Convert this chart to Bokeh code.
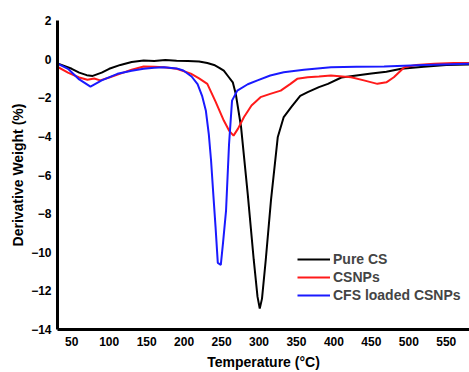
from bokeh.plotting import figure
from bokeh.models import Legend, LegendItem, FixedTicker, Range1d, Title
from bokeh.embed import file_html
from bokeh.resources import INLINE

# Pure CS
cs_x = [30, 40, 50, 60, 70, 78, 90, 100, 115, 130, 146, 160, 175, 190, 205, 220, 231, 240, 247, 253,
        259, 265, 269, 276, 285, 293, 298, 301, 304, 309, 316, 325, 333, 343, 355, 365, 380, 392, 410,
        430, 450, 470, 490, 520, 550, 580, 605]
cs_y = [-0.21, -0.35, -0.5, -0.7, -0.83, -0.87, -0.7, -0.5, -0.3, -0.15, -0.07, -0.1, -0.05, -0.08, -0.1,
        -0.12, -0.2, -0.3, -0.45, -0.6, -0.9, -1.2, -1.8, -3.5, -7.0, -10.4, -12.3, -12.92, -12.4, -10.4,
        -7.3, -4.05, -3.0, -2.49, -1.9, -1.71, -1.45, -1.28, -0.95, -0.85, -0.75, -0.65, -0.5, -0.4, -0.3,
        -0.28, -0.25]

# CSNPs
np_x = [30, 45, 60, 71, 80, 88, 100, 115, 130, 146, 160, 173, 190, 209, 220, 231, 242, 253, 260, 266,
        272, 280, 290, 302, 315, 329, 342, 351, 365, 380, 396, 423, 440, 458, 470, 480, 494, 510, 534,
        560, 605]
np_y = [-0.38, -0.7, -0.95, -1.07, -1.0, -1.1, -0.95, -0.75, -0.55, -0.38, -0.4, -0.42, -0.5, -0.75,
        -1.0, -1.28, -2.2, -3.18, -3.7, -3.96, -3.6, -3.0, -2.4, -1.97, -1.8, -1.63, -1.28, -1.02, -0.94,
        -0.9, -0.85, -0.94, -1.1, -1.28, -1.2, -0.94, -0.42, -0.3, -0.24, -0.2, -0.2]

# CFS loaded CSNPs
cfs_x = [30, 45, 60, 75, 90, 111, 130, 146, 160, 173, 190, 199, 210, 218, 224, 229, 233, 236, 239, 242,
         245, 249, 252, 256, 260, 264, 271, 285, 298, 315, 333, 360, 396, 430, 467, 520, 579, 605]
cfs_y = [-0.21, -0.5, -1.05, -1.42, -1.1, -0.76, -0.6, -0.5, -0.45, -0.42, -0.48, -0.59, -0.9, -1.3,
         -1.9, -2.66, -3.9, -5.25, -7.0, -8.7, -10.55, -10.65, -9.5, -7.84, -4.4, -2.15, -1.63, -1.3,
         -1.1, -0.85, -0.68, -0.55, -0.42, -0.4, -0.38, -0.3, -0.24, -0.22]

x_ticks = [50, 100, 150, 200, 250, 300, 350, 400, 450, 500, 550]
y_ticks = [-14, -12, -10, -8, -6, -4, -2, 0, 2]

FONT = "Liberation Sans"

p = figure(width=469, height=372, output_backend="svg", toolbar_location=None,
           x_range=Range1d(31, 581), y_range=Range1d(-14, 2),
           min_border_left=57, min_border_right=0, min_border_top=20, min_border_bottom=43)
p.outline_line_color = None
p.background_fill_color = "white"
p.grid.visible = False

r1 = p.line(cs_x, cs_y, line_color="black", line_width=2)
r2 = p.line(np_x, np_y, line_color="#ff1a1a", line_width=2)
r3 = p.line(cfs_x, cfs_y, line_color="#1a1aff", line_width=2)

for ax in (p.xaxis[0], p.yaxis[0]):
    ax.axis_line_width = 3
    ax.axis_line_color = "black"
    ax.major_tick_line_color = None
    ax.minor_tick_line_color = None
    ax.major_tick_out = 0
    ax.major_tick_in = 0
    ax.minor_tick_out = 0
    ax.major_label_text_font = FONT
    ax.major_label_text_font_style = "bold"
    ax.major_label_text_font_size = "12px"
    ax.major_label_text_color = "black"
    ax.axis_label_text_font = FONT
    ax.axis_label_text_font_style = "bold"
    ax.axis_label_text_font_size = "14px"
    ax.axis_label_text_color = "black"

p.xaxis[0].ticker = FixedTicker(ticks=x_ticks)
p.yaxis[0].ticker = FixedTicker(ticks=y_ticks)
p.xaxis[0].axis_label = "Temperature (°C)"
p.xaxis[0].major_label_standoff = 7
p.xaxis[0].axis_label_standoff = 5
p.yaxis[0].major_label_standoff = 6

ytitle = Title(text="Derivative Weight (%)", align="center", offset=11, standoff=6,
               text_font=FONT, text_font_style="bold", text_font_size="14px", text_color="black")
p.add_layout(ytitle, "left")

legend = Legend(items=[LegendItem(label="Pure CS", renderers=[r1]),
                       LegendItem(label="CSNPs", renderers=[r2]),
                       LegendItem(label="CFS loaded CSNPs", renderers=[r3])],
                location=(240, 25), padding=0, margin=0, spacing=0,
                label_height=18, glyph_height=18, glyph_width=33, label_standoff=3,
                border_line_color=None, background_fill_alpha=0,
                label_text_font=FONT, label_text_font_style="bold", label_text_font_size="14px")
p.add_layout(legend)

open("out.html", "w").write(file_html(p, INLINE))
